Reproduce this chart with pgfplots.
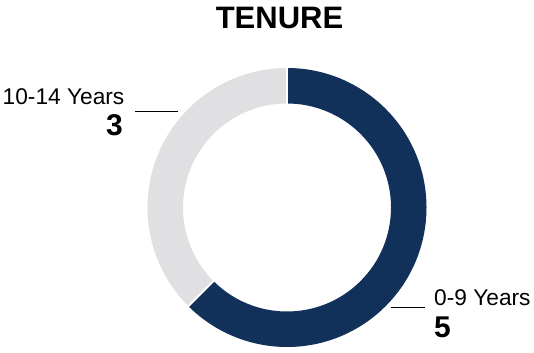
\documentclass[border=0pt]{standalone}
\usepackage{pgfplots}
\usepackage{pgfplotstable}
\pgfplotsset{compat=1.18}
\usepackage{fontspec}
\setmainfont{Liberation Sans}
\definecolor{navy}{HTML}{12315A}
\definecolor{lgray}{HTML}{E0E0E2}
\pgfplotstableread{
label value
0-9 5
10-14 3
}\tenure
\begin{document}
\begin{tikzpicture}
\pgfplotstablegetelem{0}{value}\of\tenure \let\valA\pgfplotsretval
\pgfplotstablegetelem{1}{value}\of\tenure \let\valB\pgfplotsretval
\pgfmathsetmacro{\angA}{90-360*\valA/(\valA+\valB)}
\pgfmathsetmacro{\angB}{\angA-360*\valB/(\valA+\valB)}
\path[use as bounding box] (0,0) rectangle (534bp,353bp);
\begin{axis}[
  at={(0,0)}, anchor=south west,
  width=534bp, height=353bp, scale only axis,
  xmin=0, xmax=534, ymin=0, ymax=353,
  hide axis, clip=false]
\def\cx{287}\def\cy{145.5}
\fill[navy] ([shift={(90:139.5bp)}]axis cs:\cx,\cy) arc[start angle=90, end angle=\angA, radius=139.5bp]
  -- ([shift={(\angA:104bp)}]axis cs:\cx,\cy) arc[start angle=\angA, end angle=90, radius=104bp] -- cycle;
\fill[lgray] ([shift={(\angA:139.5bp)}]axis cs:\cx,\cy) arc[start angle=\angA, end angle=\angB, radius=139.5bp]
  -- ([shift={(\angB:104bp)}]axis cs:\cx,\cy) arc[start angle=\angB, end angle=\angA, radius=104bp] -- cycle;
\draw[white, line width=2bp] ([shift={(90:102bp)}]axis cs:\cx,\cy) -- ([shift={(90:142bp)}]axis cs:\cx,\cy);
\draw[white, line width=2bp] ([shift={(\angA:102bp)}]axis cs:\cx,\cy) -- ([shift={(\angA:142bp)}]axis cs:\cx,\cy);
\node[anchor=base, inner sep=0pt, font=\fontsize{31bp}{36bp}\selectfont\bfseries] at (axis cs:279.5,324) {TENURE};
\node[anchor=base east, inner sep=0pt, font=\fontsize{22.7bp}{26bp}\selectfont] at (axis cs:124.5,248) {10-14 Years};
\node[anchor=base east, inner sep=0pt, font=\fontsize{30bp}{34bp}\selectfont\bfseries] at (axis cs:123,217) {3};
\draw[black, line width=1bp] (axis cs:135,241) -- (axis cs:178,241);
\node[anchor=base west, inner sep=0pt, font=\fontsize{22.7bp}{26bp}\selectfont] at (axis cs:434,47) {0-9 Years};
\node[anchor=base west, inner sep=0pt, font=\fontsize{30bp}{34bp}\selectfont\bfseries] at (axis cs:434,16) {5};
\draw[black, line width=1bp] (axis cs:391,45) -- (axis cs:425,45);
\end{axis}
\end{tikzpicture}
\end{document}
